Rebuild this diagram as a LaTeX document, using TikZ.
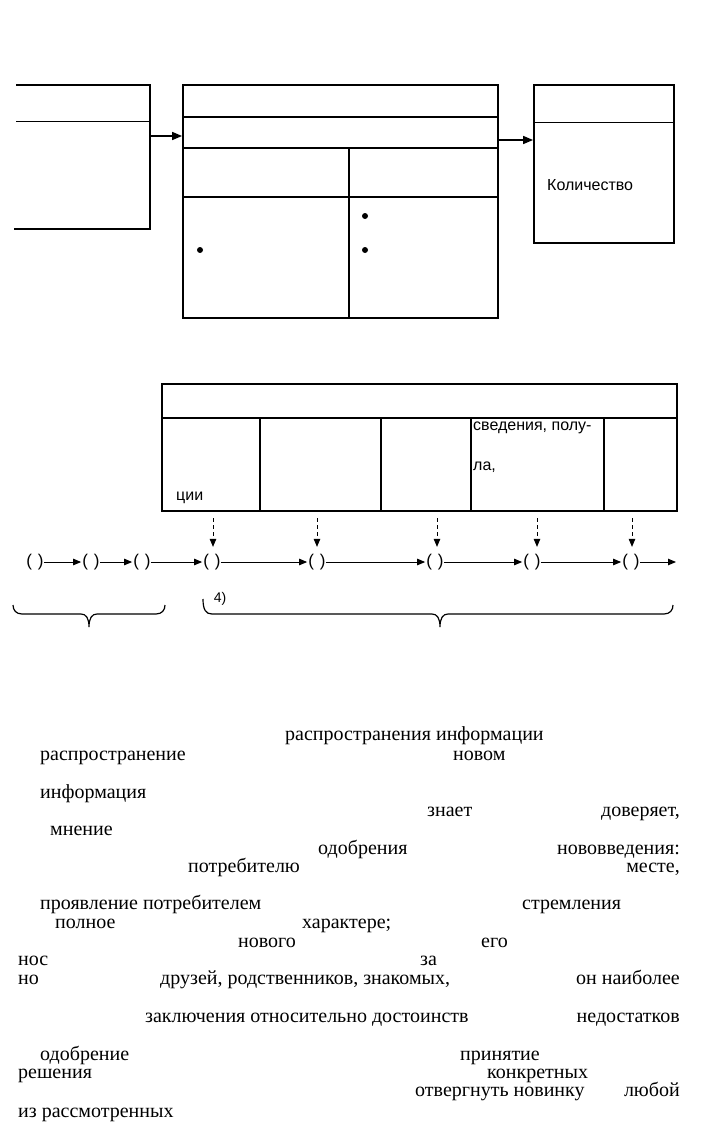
\documentclass[tikz,border=0pt]{standalone}
\usepackage{fontspec}
\setmainfont{Liberation Serif}
\setsansfont{Liberation Sans}
\newfontfamily\pagefont{Liberation Serif}
\newfontfamily\boxfont{Liberation Sans}
\usetikzlibrary{arrows.meta,positioning,calc}
\tikzset{
  >={Triangle[length=10pt,width=8pt]},
  frame/.style={draw,line width=1.8pt,inner sep=0pt},
  rule/.style={line width=1.6pt},
  thinrule/.style={line width=1pt},
  arr/.style={->,line width=1.5pt},
  sarr/.style={-{Triangle[length=8pt,width=6.5pt]},line width=0.9pt,shorten >=1pt},
  darr/.style={-{Triangle[length=8pt,width=6.5pt]},line width=0.9pt,dash pattern=on 4pt off 3pt},
  lab/.style={font=\boxfont\fontsize{16}{18}\selectfont,inner sep=0pt},
  stage/.style={font=\boxfont\fontsize{17}{19}\selectfont,inner sep=0pt},
  bul/.style={circle,fill,inner sep=0pt,minimum size=6pt},
  pbrace/.style={line width=1.2pt},
  word/.style={anchor=base west,inner sep=0pt,font=\pagefont\fontsize{20}{21}\selectfont},
  rword/.style={word,anchor=base east},
}
% brace below a group of stages: left end, tip, right end
\newcommand{\stagebrace}[4]{%
  \draw[pbrace] (#1,#4) .. controls (#1,610) and (#1+3,614) .. (#1+9,614)
    -- (#2-8,614) .. controls (#2-3,614) and (#2,618) .. (#2,627)
    .. controls (#2,618) and (#2+3,614) .. (#2+8,614)
    -- (#3-9,614) .. controls (#3-3,614) and (#3,610) .. (#3,605);}
\begin{document}
\begin{tikzpicture}[x=1pt,y=-1pt]
\useasboundingbox (0,0) rectangle (708,1126);
% source box, open at the left
\draw[rule] (16,85) -- (150,85) -- (150,229) -- (14,229);
\draw[thinrule] (16,122) -- (150,122);
\coordinate (srcout) at (150,136);
% middle box
\node[frame,minimum width=315pt,minimum height=233pt] (mid) at (340.5,201.5) {};
\draw[rule] (183,117) -- (498,117);
\draw[rule] (183,148) -- (498,148);
\draw[rule] (183,197) -- (498,197);
\draw[rule] (349,148) -- (349,318);
\node[bul] (dot1) at (200,250) {};
\node[bul] (dot2) at (365,216) {};
\node[bul] (dot3) at (365,250) {};
\coordinate (midout) at (498,140);
% result box
\node[frame,minimum width=140pt,minimum height=158pt] (res) at (604,164) {};
\draw[thinrule] (534,123) -- (674,123);
\node[lab,anchor=west] (qty) at (547,185) {Количество};
\draw[arr] (srcout) -- (mid.west |- srcout);
\draw[arr] (midout) -- (res.west |- midout);
% stages table
\node[frame,minimum width=515pt,minimum height=127pt] (tab) at (419.5,447.5) {};
\draw[rule] (162,418) -- (677,418);
\foreach \x in {260,381,471,604} \draw[rule] (\x,418) -- (\x,511);
\node[lab,anchor=base west] (tc1) at (176,500) {ции};
\node[lab,anchor=base west] (tc4a) at (473,430) {сведения, полу-};
\node[lab,anchor=base west] (tc4b) at (473,470) {ла,};
% chain of stages
\foreach \n/\x in {1/35,2/91,3/142,4/212,5/317,6/435,7/532,8/631}
  \node[stage] (s\n) at (\x,562) {(\hspace{6pt})};
\foreach \a/\b in {1/2,2/3,3/4,4/5,5/6,6/7,7/8} \draw[sarr] (s\a) -- (s\b);
\coordinate (send) at (677,562);
\draw[sarr] (s8) -- (send);
\foreach \n/\x in {4/213,5/317,6/437,7/537,8/632}{
  \coordinate (f\n) at (\x,518);
  \draw[darr,shorten >=7pt] (f\n) -- (f\n |- s\n.north);
}
% braces
\stagebrace{13}{89}{165}{605}
\stagebrace{203}{440}{673}{599}
\node[lab,font=\boxfont\fontsize{14}{16}\selectfont] (st4) at (220,599) {4)};
% text of the page
\node[word] (w1) at (285,740) {распространения информации};
\node[word] (w2) at (40,760) {распространение};
\node[word] (w3) at (453,760) {новом};
\node[word] (w4) at (40,798) {информация};
\node[word] (w5) at (427,816) {знает};
\node[rword] (w6) at (680,816) {доверяет,};
\node[word] (w7) at (50,835) {мнение};
\node[word] (w8) at (318,854) {одобрения};
\node[rword] (w9) at (680,854) {нововведения:};
\node[word] (w10) at (188,872) {потребителю};
\node[rword] (w11) at (680,872) {месте,};
\node[word] (w12) at (40,909) {проявление потребителем};
\node[word] (w13) at (522,909) {стремления};
\node[word] (w14) at (55,928) {полное};
\node[word] (w15) at (302,928) {характере;};
\node[word] (w16) at (238,947) {нового};
\node[word] (w17) at (481,947) {его};
\node[word] (w18) at (18,965) {нос};
\node[word] (w19) at (420,965) {за};
\node[word] (w20) at (18,984) {но};
\node[word] (w21) at (160,984) {друзей, родственников, знакомых,};
\node[rword] (w22) at (680,984) {он наиболее};
\node[word] (w23) at (145,1022) {заключения относительно достоинств};
\node[rword] (w24) at (680,1022) {недостатков};
\node[word] (w25) at (40,1060) {одобрение};
\node[word] (w26) at (460,1060) {принятие};
\node[word] (w27) at (18,1078) {решения};
\node[word] (w28) at (487,1078) {конкретных};
\node[word] (w29) at (415,1096) {отвергнуть новинку};
\node[rword] (w30) at (680,1096) {любой};
\node[word] (w31) at (18,1117) {из рассмотренных};
\end{tikzpicture}
\end{document}
